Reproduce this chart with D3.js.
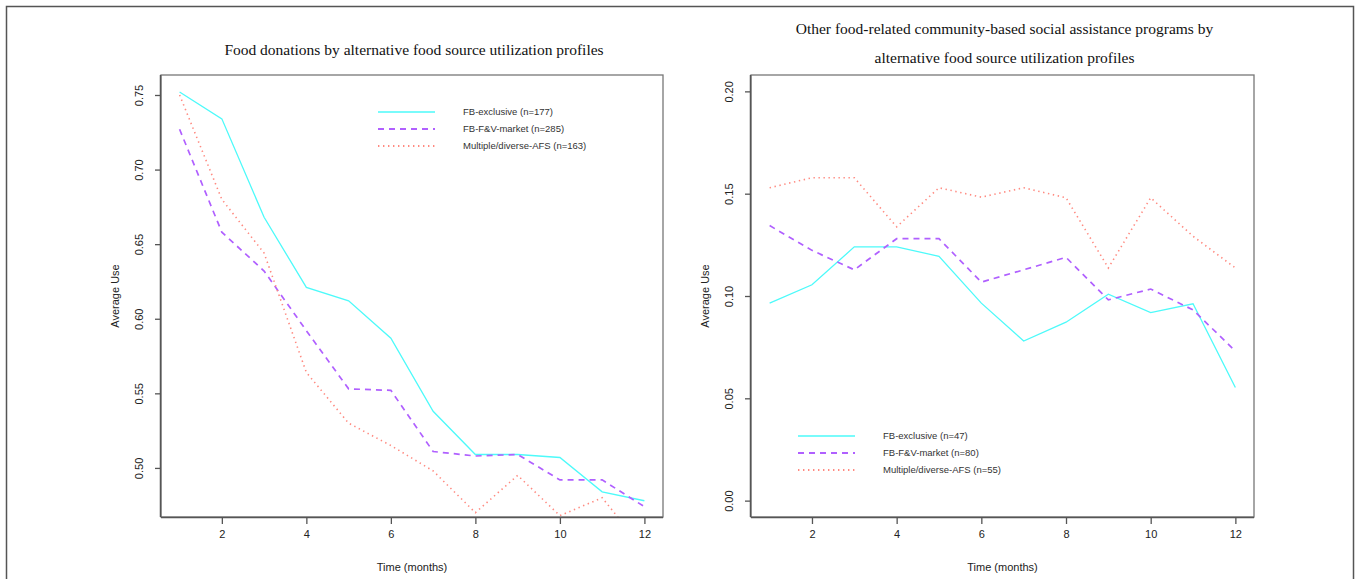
<!DOCTYPE html>
<html>
<head>
<meta charset="utf-8">
<script src="https://cdn.jsdelivr.net/npm/d3@7"></script>
<style>
  body { margin: 0; background: #fff; }
  svg { display: block; }
</style>
</head>
<body>
<main></main>
<script>
// data
const months = [1, 2, 3, 4, 5, 6, 7, 8, 9, 10, 11, 12];
const xTicks = [2, 4, 6, 8, 10, 12];

// left panel: food donations
const donationsExclusive = [0.752, 0.734, 0.668, 0.621, 0.612, 0.587, 0.538, 0.509, 0.509, 0.507, 0.484, 0.478];
const donationsMarket = [0.727, 0.658, 0.632, 0.592, 0.553, 0.552, 0.511, 0.508, 0.509, 0.492, 0.492, 0.474];
const donationsDiverse = [0.750, 0.680, 0.644, 0.564, 0.530, 0.515, 0.498, 0.470, 0.495, 0.468, 0.480, 0.445];
const donationsTicks = [0.50, 0.55, 0.60, 0.65, 0.70, 0.75];
const donationsLegend = ['FB-exclusive (n=177)', 'FB-F&V-market (n=285)', 'Multiple/diverse-AFS (n=163)'];

// right panel: other community programs
const programsExclusive = [0.0965, 0.1055, 0.124, 0.124, 0.1194, 0.0965, 0.078, 0.0872, 0.1009, 0.0919, 0.0962, 0.0553];
const programsMarket = [0.1344, 0.1223, 0.1128, 0.128, 0.128, 0.1068, 0.1128, 0.1189, 0.0981, 0.1034, 0.0932, 0.0731];
const programsDiverse = [0.1529, 0.1578, 0.1578, 0.1338, 0.1529, 0.1483, 0.1529, 0.148, 0.1137, 0.148, 0.1292, 0.1137];
const programsTicks = [0.00, 0.05, 0.10, 0.15, 0.20];
const programsLegend = ['FB-exclusive (n=47)', 'FB-F&V-market (n=80)', 'Multiple/diverse-AFS (n=55)'];

const width = 1356;
const height = 579;

// line styles per profile (solid / dashed / dotted, like R lty 1..3)
const lineStyles = [
  { color: '#4dfafa', dash: null, width: 1.3 },
  { color: '#b060ff', dash: '6,5', width: 1.7 },
  { color: '#ff8a80', dash: '1.4,3.6', width: 1.6 }
];

const panels = [
  {
    title: ['Food donations by alternative food source utilization profiles'],
    titleY: [55],
    series: [donationsExclusive, donationsMarket, donationsDiverse],
    legend: donationsLegend,
    ticks: donationsTicks,
    yDomain: [0.4671, 0.7634],
    left: 161, right: 663,
    legendX: 378, legendY: 112
  },
  {
    title: ['Other food-related community-based social assistance programs by', 'alternative food source utilization profiles'],
    titleY: [34, 63],
    series: [programsExclusive, programsMarket, programsDiverse],
    legend: programsLegend,
    ticks: programsTicks,
    yDomain: [-0.008, 0.208],
    left: 751, right: 1254,
    legendX: 798, legendY: 436
  }
];
const plotTop = 75;
const plotBottom = 517;

const svg = d3.select('main')
  .append('svg')
  .attr('width', width)
  .attr('height', height);

// outer frame of the figure
svg.append('rect')
  .attr('x', 6.5)
  .attr('y', 6.5)
  .attr('width', 1347)
  .attr('height', 600)
  .attr('fill', 'none')
  .attr('stroke', '#555')
  .attr('stroke-width', 1.5);

panels.forEach((p, i) => {
  const g = svg.append('g');

  const xScale = d3.scaleLinear()
    .domain([0.56, 12.44])
    .range([p.left, p.right]);

  const yScale = d3.scaleLinear()
    .domain(p.yDomain)
    .range([plotBottom, plotTop]);

  // clip lines to the plot box, as R does
  svg.append('clipPath')
    .attr('id', 'clip' + i)
    .append('rect')
    .attr('x', p.left)
    .attr('y', plotTop)
    .attr('width', p.right - p.left)
    .attr('height', plotBottom - plotTop);

  const line = d3.line()
    .x((d, j) => xScale(months[j]))
    .y(d => yScale(d));

  g.append('g')
    .attr('clip-path', `url(#clip${i})`)
    .selectAll('path')
    .data(p.series)
    .enter()
    .append('path')
    .attr('d', line)
    .attr('fill', 'none')
    .attr('stroke', (d, j) => lineStyles[j].color)
    .attr('stroke-width', (d, j) => lineStyles[j].width)
    .attr('stroke-dasharray', (d, j) => lineStyles[j].dash);

  // box
  g.append('rect')
    .attr('x', p.left)
    .attr('y', plotTop)
    .attr('width', p.right - p.left)
    .attr('height', plotBottom - plotTop)
    .attr('fill', 'none')
    .attr('stroke', '#777')
    .attr('stroke-width', 1.3);

  // x axis
  const xAxis = g.append('g')
    .attr('transform', `translate(0,${plotBottom})`)
    .call(d3.axisBottom(xScale).tickValues(xTicks).tickSize(7).tickPadding(6).tickSizeOuter(0));
  xAxis.select('.domain')
    .attr('d', `M${p.left},0.5H${p.right}`)
    .attr('stroke', '#555')
    .attr('stroke-width', 1.5);
  xAxis.selectAll('line').attr('stroke', '#555').attr('stroke-width', 1.3);
  xAxis.selectAll('text')
    .attr('fill', '#222')
    .style('font', '11px "Liberation Sans", Arial, sans-serif');

  // y axis, labels rotated like R
  const yAxis = g.append('g')
    .attr('transform', `translate(${p.left},0)`)
    .call(d3.axisLeft(yScale).tickValues(p.ticks).tickSize(6).tickFormat(d3.format('.2f')).tickSizeOuter(0));
  yAxis.select('.domain')
    .attr('d', `M-0.5,${plotTop}V${plotBottom}`)
    .attr('stroke', '#555')
    .attr('stroke-width', 1.5);
  yAxis.selectAll('line').attr('stroke', '#555').attr('stroke-width', 1.3);
  yAxis.selectAll('text')
    .attr('x', null)
    .attr('dy', null)
    .attr('text-anchor', 'middle')
    .attr('dominant-baseline', 'middle')
    .attr('transform', 'translate(-21,0) rotate(-90)')
    .attr('fill', '#222')
    .style('font', '11px "Liberation Sans", Arial, sans-serif');

  // axis titles
  const mid = (p.left + p.right) / 2;
  g.append('text')
    .attr('x', mid)
    .attr('y', 571)
    .attr('text-anchor', 'middle')
    .attr('fill', '#222')
    .style('font', '11px "Liberation Sans", Arial, sans-serif')
    .text('Time (months)');

  g.append('text')
    .attr('transform', `translate(${p.left - 45},${(plotTop + plotBottom) / 2}) rotate(-90)`)
    .attr('text-anchor', 'middle')
    .attr('dominant-baseline', 'middle')
    .attr('fill', '#222')
    .style('font', '11px "Liberation Sans", Arial, sans-serif')
    .text('Average Use');

  // panel title
  g.selectAll('.title')
    .data(p.title)
    .enter()
    .append('text')
    .attr('class', 'title')
    .attr('x', mid + 2)
    .attr('y', (d, j) => p.titleY[j])
    .attr('text-anchor', 'middle')
    .attr('fill', '#111')
    .style('font', '15.5px "Liberation Serif", "Times New Roman", serif')
    .text(d => d);

  // legend
  const legend = g.selectAll('.legend')
    .data(p.legend)
    .enter()
    .append('g')
    .attr('transform', (d, j) => `translate(${p.legendX},${p.legendY + j * 17})`);

  legend.append('line')
    .attr('x1', 0)
    .attr('x2', 57)
    .attr('stroke', (d, j) => lineStyles[j].color)
    .attr('stroke-width', (d, j) => lineStyles[j].width + 0.4)
    .attr('stroke-dasharray', (d, j) => lineStyles[j].dash);

  legend.append('text')
    .attr('x', 85)
    .attr('dominant-baseline', 'middle')
    .attr('fill', '#333')
    .style('font', '9.5px "Liberation Sans", Arial, sans-serif')
    .text(d => d);
});
</script>
</body>
</html>
